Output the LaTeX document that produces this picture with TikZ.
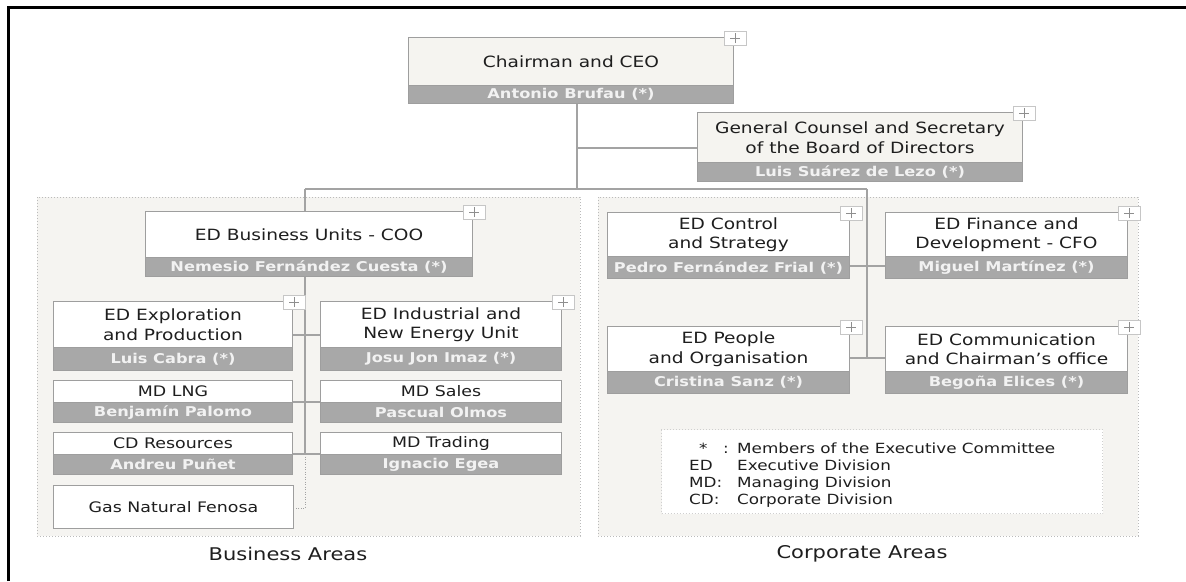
\documentclass[tikz,border=0pt]{standalone}
\usepackage{fontspec}
\setmainfont{DejaVu Sans}[FakeStretch=1.2]
\usetikzlibrary{backgrounds}
\definecolor{bandgray}{HTML}{A8A8A8}
\definecolor{boxgray}{HTML}{9E9E9E}
\definecolor{linegray}{HTML}{A3A3A3}
\definecolor{nametext}{HTML}{F2F2F2}
\definecolor{titletext}{HTML}{1E1E1E}
\definecolor{areafill}{HTML}{F5F4F1}
\definecolor{dotgray}{HTML}{BBBBBB}
\definecolor{plusgray}{HTML}{C6C6C6}
\definecolor{crossgray}{HTML}{8E8E8E}
\definecolor{offwhite}{HTML}{F5F4F0}
\newcommand\ftitle{\fontsize{15.5}{19.5}\selectfont}
\newcommand\fname{\fontsize{13.5}{16}\selectfont\bfseries}
\newcommand\fsmall{\fontsize{14.5}{17}\selectfont}
\newcommand\flegend{\fontsize{14}{17}\selectfont}
\newcommand\flabel{\fontsize{17.5}{20}\selectfont}
% name, x1, y1, x2, ysplit, y2, title, person, title fill
\newcommand\orgbox[9]{%
  \node[tbox, fill=#9, anchor=north west, minimum width={(#4-#2)*1pt}, minimum height={(#5-#3)*1pt}] (#1-t) at (#2,#3) {#7};%
  \node[nbox, anchor=north west, minimum width={(#4-#2)*1pt}, minimum height={(#6-#5)*1pt}] (#1-n) at (#2,#5) {#8};%
}
\begin{document}
\begin{tikzpicture}[x=1pt,y=-1pt,
  tbox/.style={draw=boxgray, line width=1pt, inner sep=0pt, align=center, text=titletext, font=\ftitle},
  nbox/.style={draw=boxgray, line width=1pt, fill=bandgray, inner sep=0pt, text=nametext, font=\fname},
  conn/.style={draw=linegray, line width=1.3pt},
  area/.style={fill=areafill, draw=dotgray, line width=1pt, dash pattern=on 1pt off 2pt},
  plusbox/.style={draw=plusgray, line width=0.9pt, fill=white, minimum width=22pt, minimum height=14pt, inner sep=0pt,
    path picture={\draw[crossgray, line width=1pt] ([xshift=-5pt]path picture bounding box.center) -- ([xshift=5pt]path picture bounding box.center);
                  \draw[crossgray, line width=1pt] ([yshift=-5pt]path picture bounding box.center) -- ([yshift=5pt]path picture bounding box.center);}},
  lbl/.style={inner sep=0pt, text=titletext, font=\flabel},
  leg/.style={inner sep=0pt, anchor=base west, text=titletext, font=\flegend}
]
\useasboundingbox (0,0) rectangle (1186,581);

% boxes
\orgbox{chair}{408}{37}{733}{85}{103}{Chairman and CEO}{Antonio Brufau (*)}{offwhite}
\orgbox{gc}{697}{112}{1022}{162}{181}{General Counsel and Secretary\\of the Board of Directors}{Luis Suárez de Lezo (*)}{offwhite}
\orgbox{coo}{145}{211}{472}{257}{276}{ED Business Units - COO}{Nemesio Fernández Cuesta (*)}{white}
\orgbox{expl}{53}{301}{292}{347}{370}{ED Exploration\\and Production}{Luis Cabra (*)}{white}
\orgbox{ind}{320}{301}{561}{347}{370}{ED Industrial and\\New Energy Unit}{Josu Jon Imaz (*)}{white}
\begin{scope}[tbox/.append style={font=\fsmall}]
\orgbox{lng}{53}{380}{292}{402}{422}{MD LNG}{Benjamín Palomo}{white}
\orgbox{sales}{320}{380}{561}{402}{422}{MD Sales}{Pascual Olmos}{white}
\orgbox{cdr}{53}{432}{292}{454}{474}{CD Resources}{Andreu Puñet}{white}
\orgbox{trd}{320}{432}{561}{454}{474}{MD Trading}{Ignacio Egea}{white}
\end{scope}
\node[tbox, fill=white, font=\fsmall, anchor=north west, minimum width=240pt, minimum height=43pt] (gas) at (53,485) {Gas Natural Fenosa};
\orgbox{ctrl}{607}{212}{849}{256}{278}{ED Control\\and Strategy}{Pedro Fernández Frial (*)}{white}
\orgbox{fin}{885}{212}{1127}{256}{278}{ED Finance and\\Development - CFO}{Miguel Martínez (*)}{white}
\orgbox{ppl}{607}{326}{849}{371}{393}{ED People\\and Organisation}{Cristina Sanz (*)}{white}
\orgbox{comm}{885}{326}{1127}{371}{393}{ED Communication\\and Chairman's office}{Begoña Elices (*)}{white}

% plus icons
\foreach \b in {chair,gc,coo,expl,ind,ctrl,fin,ppl,comm}
  \node[plusbox] (plus-\b) at ([shift={(1,1)}]\b-t.north east) {};

% legend
\node[area, fill=white, draw=dotgray!70, anchor=north west, minimum width=441pt, minimum height=84pt, inner sep=0pt] (legend) at (661,429) {};
\node[leg] (l1a) at (699,453) {*};
\node[leg] (l1b) at (723,453) {:};
\node[leg] (l1c) at (737,453) {Members of the Executive Committee};
\node[leg] (l2a) at (689,470) {ED};
\node[leg] (l2b) at (737,470) {Executive Division};
\node[leg] (l3a) at (689,487) {MD:};
\node[leg] (l3b) at (737,487) {Managing Division};
\node[leg] (l4a) at (689,504) {CD:};
\node[leg] (l4b) at (737,504) {Corporate Division};

% area labels
\node[lbl] (busl) at (288,554) {Business Areas};
\node[lbl] (corl) at (862,554) {Corporate Areas};

\begin{pgfonlayer}{background}
  \fill[white] (0,0) rectangle (1186,581);
  \draw[area] (37,197) rectangle (580,536);
  \draw[area] (598,197) rectangle (1138,536);
  \coordinate (jc) at (577,189);
  \coordinate (jg) at (577,148);
  \coordinate (jl) at (305,189);
  \coordinate (jr) at (867,189);
  \coordinate (jb) at (305,454);
  \coordinate (jd) at (305,508);
  \coordinate (h1) at (305,335);
  \coordinate (hr1) at (867,266);
  \coordinate (hr2) at (867,358);
  \draw[conn] (chair-n.south -| jc) -- (jc);
  \draw[conn] (jg) -- (jg -| gc-t.west);
  \draw[conn] (jl) -- (jr);
  \draw[conn] (jl) -- (jl |- coo-t.north);
  \draw[conn] (coo-n.south -| jb) -- (jb);
  \draw[conn, line width=1pt, dash pattern=on 1pt off 1.5pt] (jb) -- (jd) -- (jd -| gas.east);
  \draw[conn] (h1 -| expl-t.east) -- (h1 -| ind-t.west);
  \draw[conn] (lng-n.north east) -- (sales-n.north west);
  \draw[conn] (cdr-n.north east) -- (trd-n.north west);
  \draw[conn] (jr) -- (hr2);
  \draw[conn] (hr1 -| ctrl-n.east) -- (hr1 -| fin-n.west);
  \draw[conn] (hr2 -| ppl-t.east) -- (hr2 -| comm-t.west);
\end{pgfonlayer}

% outer border
\draw[line width=3.5pt] (8.5,581) -- (8.5,7.5) -- (1186,7.5);
\end{tikzpicture}
\end{document}
